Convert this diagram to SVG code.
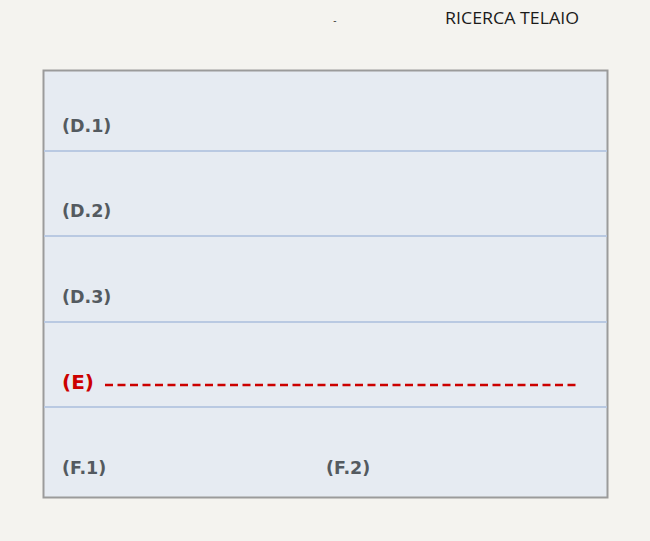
<svg xmlns="http://www.w3.org/2000/svg" width="650" height="541" viewBox="0 0 650 541">
<style>
.lbl{font-family:"DejaVu Sans",sans-serif;font-weight:bold;font-size:17.5px;fill:#545a60}
.div{stroke:#b9c9e2;stroke-width:2}
</style>
<rect width="650" height="541" fill="#f4f3ef"/>
<g id="header">
<text x="333" y="24" font-family="Lato,sans-serif" font-size="10" fill="#222">-</text>
<text x="445" y="24" font-family="'Open Sans',sans-serif" font-size="15.5" fill="#1a1a1a" textLength="134" lengthAdjust="spacingAndGlyphs">RICERCA TELAIO</text>
</g>
<g id="frame">
<rect x="43.5" y="70.5" width="564" height="427" fill="#e6ebf2" stroke="#9b9b9b" stroke-width="2"/>
</g>
<g id="connectors">
<line class="div" x1="44" y1="151" x2="607" y2="151"/>
<line class="div" x1="44" y1="236" x2="607" y2="236"/>
<line class="div" x1="44" y1="322" x2="607" y2="322"/>
<line class="div" x1="44" y1="407" x2="607" y2="407"/>
</g>
<g id="D1"><text class="lbl" x="62" y="132">(D.1)</text></g>
<g id="D2"><text class="lbl" x="62" y="217">(D.2)</text></g>
<g id="D3"><text class="lbl" x="62" y="303">(D.3)</text></g>
<g id="E">
<text x="62" y="389" font-family="'DejaVu Sans',sans-serif" font-weight="bold" font-size="20" fill="#cc0000">(E)</text>
<line x1="105" y1="385" x2="576" y2="385" stroke="#cc0000" stroke-width="2.5" stroke-dasharray="8 4.5"/>
</g>
<g id="F1"><text class="lbl" x="62" y="474">(F.1)</text></g>
<g id="F2"><text class="lbl" x="326" y="474">(F.2)</text></g>
</svg>
